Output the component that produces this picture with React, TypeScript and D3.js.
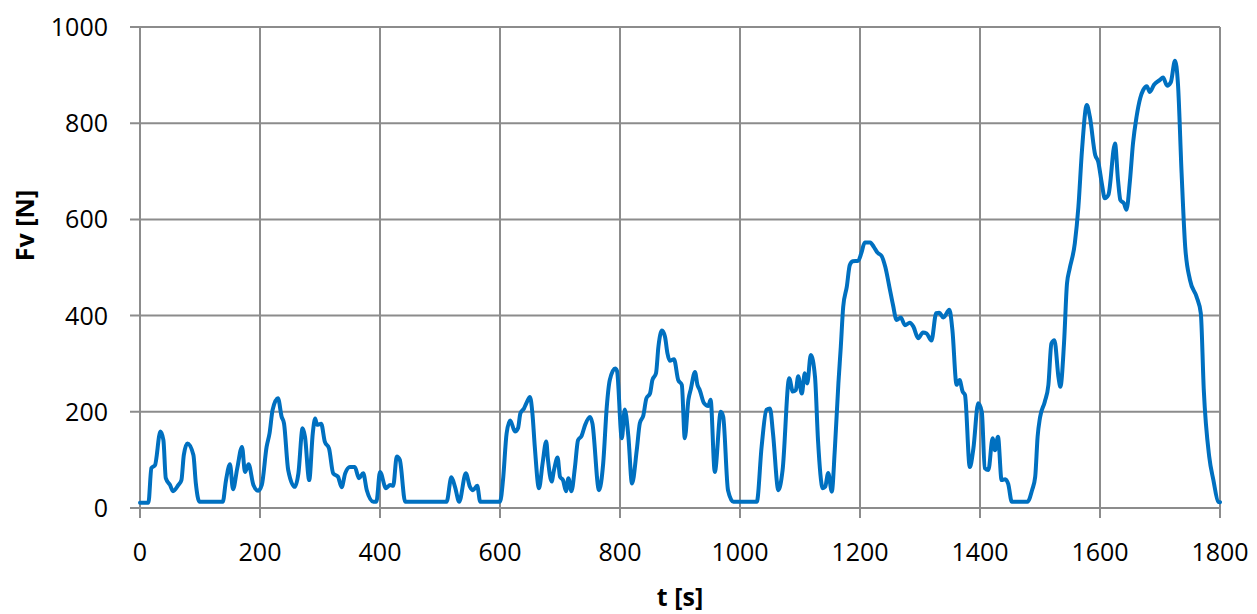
import React, { useEffect, useRef } from 'react';
import * as d3 from 'd3';

// time samples [s] and force [N]
const times = [
  0, 14, 19, 25, 34, 39, 43, 50, 55, 64, 69, 73, 79, 89, 93, 99, 138, 143, 150, 155,
  162, 170, 175, 181, 189, 197, 203, 211, 216, 221, 230, 236, 240, 247, 258, 264, 271, 275, 282, 288,
  292, 295, 302, 308, 315, 322, 330, 336, 342, 350, 358, 365, 372, 378, 389, 394, 400, 410, 417, 422,
  428, 433, 442, 511, 519, 525, 532, 543, 550, 555, 562, 567, 600, 605, 611, 617, 625, 630, 634, 640,
  644, 650, 654, 658, 665, 671, 677, 680, 686, 690, 696, 700, 705, 710, 714, 719, 725, 730, 736, 742,
  750, 754, 765, 772, 778, 783, 792, 795, 803, 808, 814, 820, 828, 833, 839, 844, 850, 854, 860, 864,
  870, 875, 879, 883, 890, 897, 903, 908, 914, 918, 925, 929, 933, 940, 947, 951, 958, 968, 972, 980,
  989, 1028, 1036, 1044, 1050, 1055, 1064, 1071, 1082, 1088, 1093, 1097, 1103, 1108, 1112, 1118, 1125, 1130, 1138, 1142,
  1147, 1153, 1158, 1164, 1168, 1172, 1178, 1183, 1188, 1197, 1202, 1208, 1217, 1223, 1229, 1236, 1242, 1250, 1255, 1261,
  1268, 1275, 1283, 1289, 1297, 1305, 1311, 1319, 1327, 1332, 1339, 1349, 1354, 1361, 1366, 1371, 1375, 1383, 1389, 1397,
  1403, 1408, 1414, 1421, 1425, 1430, 1436, 1442, 1447, 1453, 1479, 1487, 1492, 1496, 1500, 1508, 1514, 1519, 1524, 1531,
  1534, 1540, 1545, 1549, 1558, 1564, 1570, 1578, 1583, 1592, 1597, 1603, 1608, 1614, 1625, 1630, 1634, 1640, 1644, 1650,
  1655, 1661, 1667, 1672, 1678, 1683, 1690, 1700, 1705, 1712, 1718, 1725, 1730, 1736, 1742, 1750, 1761, 1768, 1773, 1782,
  1789, 1797, 1800,
];

const force = [
  11, 11, 83, 89, 159, 141, 62, 48, 35, 48, 58, 110, 134, 110, 52, 13, 13, 55, 91, 39,
  82, 127, 75, 91, 48, 36, 48, 127, 156, 204, 228, 190, 176, 79, 44, 72, 166, 148, 58, 156,
  186, 173, 175, 138, 124, 72, 65, 43, 72, 85, 85, 62, 72, 37, 13, 13, 75, 41, 48, 46,
  107, 100, 13, 13, 64, 44, 13, 72, 44, 37, 46, 13, 13, 58, 155, 182, 159, 166, 197, 207,
  218, 231, 197, 127, 41, 93, 138, 100, 55, 79, 105, 65, 58, 35, 62, 35, 86, 141, 150, 173,
  189, 176, 37, 93, 211, 266, 290, 285, 145, 205, 148, 51, 121, 176, 193, 228, 238, 266, 280, 335,
  369, 356, 322, 306, 309, 266, 256, 145, 225, 247, 283, 256, 245, 218, 212, 225, 75, 200, 190, 37,
  13, 13, 127, 204, 207, 155, 37, 79, 270, 242, 245, 274, 238, 280, 259, 318, 273, 141, 41, 44,
  73, 34, 121, 259, 335, 418, 460, 505, 513, 514, 529, 552, 552, 543, 531, 524, 502, 453, 422, 391,
  396, 380, 385, 377, 353, 365, 363, 348, 405, 406, 396, 412, 370, 256, 266, 242, 235, 85, 124, 218,
  200, 83, 79, 145, 120, 148, 58, 60, 50, 13, 13, 38, 65, 148, 188, 221, 256, 342, 349, 270,
  252, 342, 467, 495, 550, 626, 744, 838, 814, 734, 720, 675, 644, 651, 758, 682, 640, 633, 620, 682,
  758, 814, 852, 869, 877, 865, 880, 890, 895, 878, 885, 930, 880, 696, 543, 474, 439, 405, 245, 107,
  58, 13, 12,
];

const xTicks = [0, 200, 400, 600, 800, 1000, 1200, 1400, 1600, 1800];
const yTicks = [0, 200, 400, 600, 800, 1000];

const W = 1257;
const H = 614;
const margin = { top: 27, right: 37, bottom: 106, left: 140 };

export default function App() {
  const svgRef = useRef<SVGSVGElement>(null);

  useEffect(() => {
    const root = d3.select(svgRef.current);
    root.selectAll('*').remove();

    const width = W - margin.left - margin.right;
    const height = H - margin.top - margin.bottom;
    const font = '"Open Sans", "Liberation Sans", sans-serif';
    const gridColor = '#8c8c8c';

    const x = d3.scaleLinear().domain([0, 1800]).range([0, width]);
    const y = d3.scaleLinear().domain([0, 1000]).range([height, 0]);

    const g = root.append('g').attr('transform', `translate(${margin.left},${margin.top})`);

    // grid
    g.selectAll('.hgrid')
      .data(yTicks)
      .enter()
      .append('line')
      .attr('x1', -10)
      .attr('x2', width)
      .attr('y1', d => y(d))
      .attr('y2', d => y(d))
      .attr('stroke', gridColor)
      .attr('stroke-width', 2);

    g.selectAll('.vgrid')
      .data(xTicks)
      .enter()
      .append('line')
      .attr('x1', d => x(d))
      .attr('x2', d => x(d))
      .attr('y1', 0)
      .attr('y2', height + 10)
      .attr('stroke', gridColor)
      .attr('stroke-width', 2);

    // tick labels
    g.selectAll('.ylab')
      .data(yTicks)
      .enter()
      .append('text')
      .attr('x', -32)
      .attr('y', d => y(d))
      .attr('dy', '0.36em')
      .attr('text-anchor', 'end')
      .style('font-family', font)
      .style('font-size', '25px')
      .style('fill', '#000')
      .text(d => d);

    g.selectAll('.xlab')
      .data(xTicks)
      .enter()
      .append('text')
      .attr('x', d => x(d))
      .attr('y', height + 53)
      .attr('text-anchor', 'middle')
      .style('font-family', font)
      .style('font-size', '25px')
      .style('fill', '#000')
      .text(d => d);

    // axis titles
    g.append('text')
      .attr('transform', `translate(${-106},${height / 2 - 42}) rotate(-90)`)
      .attr('text-anchor', 'middle')
      .style('font-family', font)
      .style('font-weight', 'bold')
      .style('font-size', '25px')
      .text('Fv [N]');

    g.append('text')
      .attr('x', width / 2)
      .attr('y', height + 98)
      .attr('text-anchor', 'middle')
      .style('font-family', font)
      .style('font-weight', 'bold')
      .style('font-size', '25px')
      .text('t [s]');

    // data line
    const pts = times.map((t, i) => [t, force[i]] as [number, number]);
    const line = d3.line<[number, number]>()
      .x(d => x(d[0]))
      .y(d => y(d[1]))
      .curve(d3.curveMonotoneX);

    g.append('path')
      .datum(pts)
      .attr('d', line)
      .attr('fill', 'none')
      .attr('stroke', '#0070c0')
      .attr('stroke-width', 4)
      .attr('stroke-linejoin', 'round')
      .attr('stroke-linecap', 'round');
  }, []);

  return (
    <svg
      ref={svgRef}
      width={W}
      height={H}
      style={{ position: 'absolute', left: 0, top: 0, background: '#fff' }}
    />
  );
}
